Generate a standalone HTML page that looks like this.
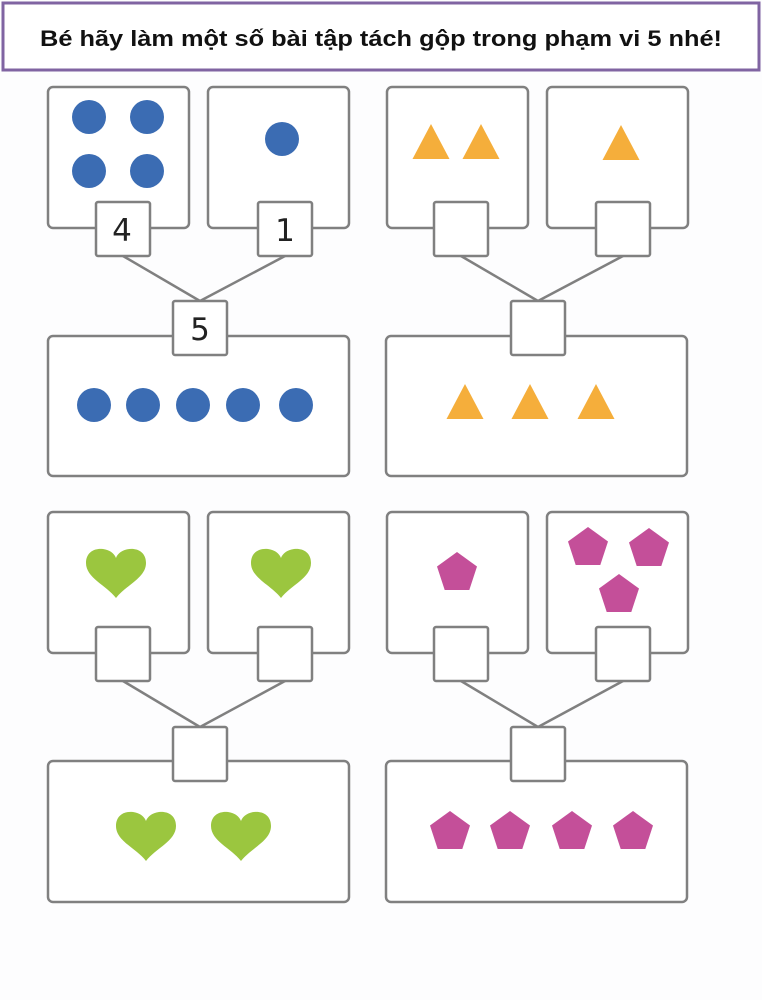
<!DOCTYPE html>
<html><head><meta charset="utf-8"><style>
html,body{margin:0;padding:0;background:#fdfdfe;}
svg{display:block;}
</style></head><body>
<svg width="762" height="1000" viewBox="0 0 762 1000" xmlns="http://www.w3.org/2000/svg">
<defs>
<path id="heart" d="M0,10 C-4,-2 -30,-4 -30,15 C-30,30 -10,37 0,50 C10,37 30,30 30,15 C30,-4 4,-2 0,10Z" fill="#9bc63f"/>
<polygon id="pent" points="0,-21 20,-6.5 12.3,17 -12.3,17 -20,-6.5" fill="#c44f99"/>
<polygon id="tri" points="0,0 18.5,35 -18.5,35" fill="#f5ae3b"/>
</defs>
<rect x="3" y="3" width="756" height="67" fill="#fff" stroke="#8064a2" stroke-width="3"/>
<text x="40" y="46" textLength="682" lengthAdjust="spacingAndGlyphs" font-family="Liberation Sans, sans-serif" font-weight="bold" font-size="22" fill="#111">Bé hãy làm một số bài tập tách gộp trong phạm vi 5 nhé!</text>

<g fill="#fff" stroke="#808080" stroke-width="2.5">
<rect x="48" y="87" width="141" height="141" rx="5"/>
<rect x="208" y="87" width="141" height="141" rx="5"/>
<rect x="48" y="336" width="301" height="140" rx="5"/>
<line x1="123" y1="256" x2="200" y2="301"/><line x1="285" y1="256" x2="200" y2="301"/>
<rect x="96" y="202" width="54" height="54" rx="2"/>
<rect x="258" y="202" width="54" height="54" rx="2"/>
<rect x="173" y="301" width="54" height="54" rx="2"/>
<rect x="387" y="87" width="141" height="141" rx="5"/>
<rect x="547" y="87" width="141" height="141" rx="5"/>
<rect x="386" y="336" width="301" height="140" rx="5"/>
<line x1="461" y1="256" x2="538" y2="301"/><line x1="623" y1="256" x2="538" y2="301"/>
<rect x="434" y="202" width="54" height="54" rx="2"/>
<rect x="596" y="202" width="54" height="54" rx="2"/>
<rect x="511" y="301" width="54" height="54" rx="2"/>
<rect x="48" y="512" width="141" height="141" rx="5"/>
<rect x="208" y="512" width="141" height="141" rx="5"/>
<rect x="48" y="761" width="301" height="141" rx="5"/>
<line x1="123" y1="681" x2="200" y2="727"/><line x1="285" y1="681" x2="200" y2="727"/>
<rect x="96" y="627" width="54" height="54" rx="2"/>
<rect x="258" y="627" width="54" height="54" rx="2"/>
<rect x="173" y="727" width="54" height="54" rx="2"/>
<rect x="387" y="512" width="141" height="141" rx="5"/>
<rect x="547" y="512" width="141" height="141" rx="5"/>
<rect x="386" y="761" width="301" height="141" rx="5"/>
<line x1="461" y1="681" x2="538" y2="727"/><line x1="623" y1="681" x2="538" y2="727"/>
<rect x="434" y="627" width="54" height="54" rx="2"/>
<rect x="596" y="627" width="54" height="54" rx="2"/>
<rect x="511" y="727" width="54" height="54" rx="2"/>
</g>

<g font-family="DejaVu Sans, Liberation Sans, sans-serif" font-size="31" fill="#222" text-anchor="middle">
<text x="122" y="241">4</text>
<text x="285" y="241">1</text>
<text x="200" y="340">5</text>
</g>

<g fill="#3b6cb3">
<circle cx="89" cy="117" r="17"/><circle cx="147" cy="117" r="17"/>
<circle cx="89" cy="171" r="17"/><circle cx="147" cy="171" r="17"/>
<circle cx="282" cy="139" r="17"/>
<circle cx="94" cy="405" r="17"/><circle cx="143" cy="405" r="17"/><circle cx="193" cy="405" r="17"/><circle cx="243" cy="405" r="17"/><circle cx="296" cy="405" r="17"/>
</g>

<use href="#tri" x="431" y="124"/><use href="#tri" x="481" y="124"/><use href="#tri" x="621" y="125"/>
<use href="#tri" x="465" y="384"/><use href="#tri" x="530" y="384"/><use href="#tri" x="596" y="384"/>

<use href="#heart" x="116" y="548"/><use href="#heart" x="281" y="548"/>
<use href="#heart" x="146" y="811"/><use href="#heart" x="241" y="811"/>

<use href="#pent" x="457" y="573"/>
<use href="#pent" x="588" y="548"/><use href="#pent" x="649" y="549"/><use href="#pent" x="619" y="595"/>
<use href="#pent" x="450" y="832"/><use href="#pent" x="510" y="832"/><use href="#pent" x="572" y="832"/><use href="#pent" x="633" y="832"/>
</svg>
</body></html>
